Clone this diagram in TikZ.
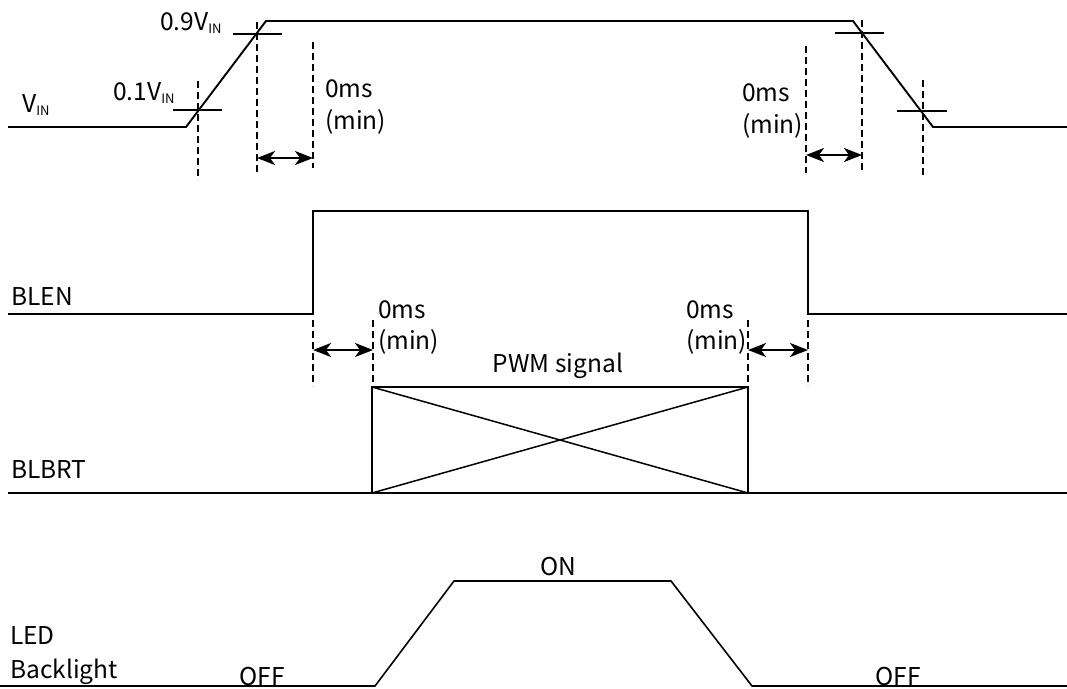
\documentclass[tikz,border=0pt]{standalone}
\usepackage{fontspec}
\setmainfont{Noto Sans CJK JP}
\usetikzlibrary{arrows.meta}
\newcommand{\myVIN}{V\raisebox{-3pt}{\fontsize{13}{13}\selectfont IN}}
\begin{document}
\begin{tikzpicture}[x=1pt,y=-1pt,
  wave/.style={line width=1.9pt, line join=miter},
  thickwave/.style={line width=2.3pt, line join=miter},
  tickline/.style={line width=1.7pt},
  guide/.style={line width=1.4pt, dash pattern=on 7pt off 4pt},
  dimarrow/.style={line width=2.2pt, >={Stealth[length=18pt,width=14pt,inset=5pt]}, <->},
  lbl/.style={inner sep=0pt, anchor=base west, font=\fontsize{24.5}{28}\selectfont},
  ]
\useasboundingbox (0,0) rectangle (1067,688);

% ---------- V_IN ----------
\coordinate (v0) at (8,127);
\coordinate (v1) at (186,127);
\coordinate (v2) at (266,21);
\coordinate (v3) at (853,21);
\coordinate (v4) at (933,127);
\coordinate (v5) at (1067,127);
\draw[wave] (v0) -- (v1) -- (v2) -- (v3) -- (v4) -- (v5);

\coordinate (t1a) at (173,110); \coordinate (t1b) at (222,110);
\coordinate (t2a) at (233,34);  \coordinate (t2b) at (282,34);
\coordinate (t3a) at (835,33);  \coordinate (t3b) at (884,33);
\coordinate (t4a) at (897,111); \coordinate (t4b) at (947,111);
\draw[tickline] (t1a) -- (t1b);
\draw[tickline] (t2a) -- (t2b);
\draw[tickline] (t3a) -- (t3b);
\draw[tickline] (t4a) -- (t4b);

\coordinate (g1a) at (198,81);  \coordinate (g1b) at (198,180);
\coordinate (g2a) at (257,22);  \coordinate (g2b) at (257,175);
\coordinate (g3a) at (313,42);  \coordinate (g3b) at (313,168);
\coordinate (g4a) at (806,46);  \coordinate (g4b) at (806,173);
\coordinate (g5a) at (862,20);  \coordinate (g5b) at (862,173);
\coordinate (g6a) at (923,80);  \coordinate (g6b) at (923,177);
\foreach \g in {g1,g2,g3,g4,g5,g6} \draw[guide] (\g a) -- (\g b);

\coordinate (a1) at (257,158); \coordinate (a2) at (313,158);
\coordinate (a3) at (806,155); \coordinate (a4) at (862,155);
\draw[dimarrow] (a1) -- (a2);
\draw[dimarrow] (a3) -- (a4);

\node[lbl] (lvin) at (22,112) {\myVIN};
\node[lbl] (l01) at (113,100) {0.1\myVIN};
\node[lbl] (l09) at (160,30) {0.9\myVIN};
\node[lbl] (m1a) at (325,97) {0ms};
\node[lbl] (m1b) at (325,129) {(min)};
\node[lbl] (m2a) at (742,101) {0ms};
\node[lbl] (m2b) at (742,133) {(min)};

% ---------- BLEN ----------
\coordinate (b0) at (8,314);
\coordinate (b1) at (313,314);
\coordinate (b2) at (313,211);
\coordinate (b3) at (808,211);
\coordinate (b4) at (808,314);
\coordinate (b5) at (1067,314);
\draw[thickwave] (b0) -- (b1) -- (b2) -- (b3) -- (b4) -- (b5);
\node[lbl] (nblen) at (11,305) {BLEN};

\coordinate (h1a) at (313,320); \coordinate (h1b) at (313,386);
\coordinate (h2a) at (373,320); \coordinate (h2b) at (373,387);
\coordinate (h3a) at (748,320); \coordinate (h3b) at (748,387);
\coordinate (h4a) at (808,320); \coordinate (h4b) at (808,386);
\foreach \g in {h1,h2,h3,h4} \draw[guide] (\g a) -- (\g b);

\coordinate (a5) at (313,350); \coordinate (a6) at (373,350);
\coordinate (a7) at (748,350); \coordinate (a8) at (808,350);
\draw[dimarrow] (a5) -- (a6);
\draw[dimarrow] (a7) -- (a8);

\node[lbl] (m3a) at (378,318) {0ms};
\node[lbl] (m3b) at (378,349) {(min)};
\node[lbl] (m4a) at (686,318) {0ms};
\node[lbl] (m4b) at (686,349) {(min)};

% ---------- BLBRT ----------
\coordinate (r0) at (8,493);
\coordinate (r1) at (1067,493);
\draw[wave] (r0) -- (r1);
\coordinate (p1) at (372,387);
\coordinate (p2) at (748,387);
\coordinate (p3) at (748,493);
\coordinate (p4) at (372,493);
\draw[line width=1.5pt] (p1) -- (p2) -- (p3) -- (p4) -- cycle;
\draw[line width=1.5pt] (p1) -- (p3);
\draw[line width=1.5pt] (p4) -- (p2);
\node[lbl, anchor=base] (npwm) at (558,372) {PWM signal};
\node[lbl] (nblbrt) at (11,478) {BLBRT};

% ---------- LED Backlight ----------
\coordinate (l0) at (0,686);
\coordinate (l1) at (375,686);
\coordinate (l2) at (454,581);
\coordinate (l3) at (671,581);
\coordinate (l4) at (752,686);
\coordinate (l5) at (1067,686);
\draw[wave, line width=1.6pt] (l0) -- (l1) -- (l2) -- (l3) -- (l4) -- (l5);
\node[lbl] (nled) at (10,644) {LED};
\node[lbl] (nback) at (10,678) {Backlight};
\node[lbl, anchor=base] (non) at (558,575) {ON};
\node[lbl, anchor=base] (noff1) at (262,685) {OFF};
\node[lbl, anchor=base] (noff2) at (898,685) {OFF};
\end{tikzpicture}
\end{document}
